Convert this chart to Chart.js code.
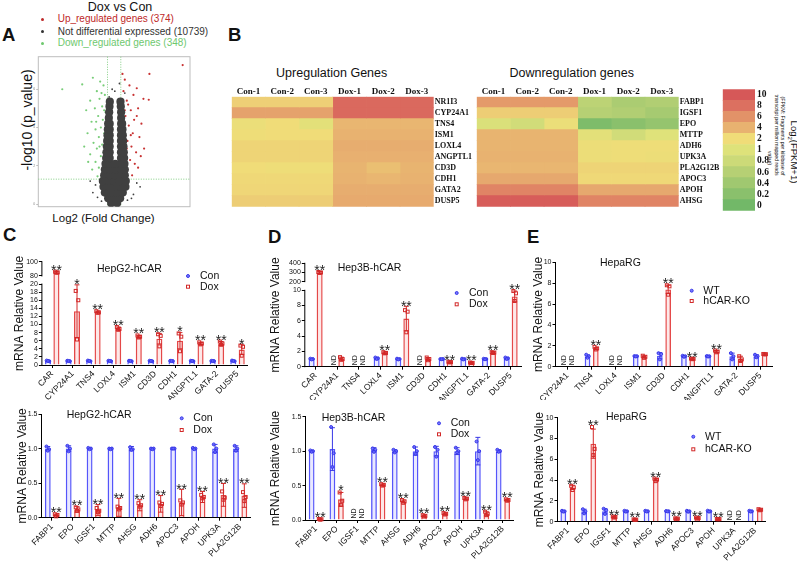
<!DOCTYPE html>
<html>
<head>
<meta charset="utf-8">
<script src="https://cdn.jsdelivr.net/npm/chart.js@4.4.0/dist/chart.umd.min.js"></script>
<style>
body{margin:0;background:#fff;width:797px;height:561px;position:relative;overflow:hidden;font-family:"Liberation Sans",Arial,sans-serif;color:#111}
canvas{position:absolute}
.t{position:absolute;white-space:nowrap;line-height:1}
.lt{font-weight:bold;font-size:18.5px}
.dot{position:absolute;width:3px;height:3px;border-radius:50%}
</style>
</head>
<body>
<div class="t lt" style="left:2px;top:25.6px">A</div>
<div class="t lt" style="left:228px;top:25.6px">B</div>
<div class="t lt" style="left:3px;top:225.6px">C</div>
<div class="t lt" style="left:268px;top:227.6px">D</div>
<div class="t lt" style="left:527px;top:227.6px">E</div>

<div class="t" style="left:120px;top:0.8px;font-size:12.5px;transform:translateX(-50%)">Dox vs Con</div>
<div class="dot" style="left:41px;top:17.8px;background:rgb(190,40,40)"></div>
<div class="dot" style="left:41px;top:30.2px;background:#333"></div>
<div class="dot" style="left:41px;top:41.8px;background:rgb(110,200,110)"></div>
<div class="t" style="left:57.7px;top:14.3px;font-size:10px;color:rgb(190,40,40)">Up_regulated genes (374)</div>
<div class="t" style="left:57.7px;top:26.7px;font-size:10px;color:#333">Not differential expressed (10739)</div>
<div class="t" style="left:57.7px;top:38.3px;font-size:10px;color:rgb(110,200,110)">Down_regulated genes (348)</div>
<div class="t" style="left:27px;top:120px;font-size:14px;transform:translate(-50%,-50%) rotate(-90deg)">-log10 (p_value)</div>
<div class="t" style="left:103.5px;top:213px;font-size:11.5px;transform:translateX(-50%)">Log2 (Fold Change)</div>

<div class="t" style="left:331.7px;top:66.8px;font-size:12.5px;transform:translateX(-50%)">Upregulation Genes</div>
<div class="t" style="left:571.7px;top:66.5px;font-size:12.5px;transform:translateX(-50%)">Downregulation genes</div>
<div class="t" style="left:793px;top:152px;font-size:9.5px;transform:translate(-50%,-50%) rotate(90deg)">Log<sub style="font-size:6px">2</sub>(FPKM+1)</div>
<div class="t" style="left:781.7px;top:135.5px;font-size:5.2px;transform:translate(-50%,-50%) rotate(90deg)">(FPKM: Fragments per kilobase of</div>
<div class="t" style="left:776px;top:135px;font-size:5.2px;transform:translate(-50%,-50%) rotate(90deg)">transcript per million mapped reads</div>
<div class="t" style="left:769px;top:157.5px;font-size:5.2px;transform:translate(-50%,-50%) rotate(90deg)">value)</div>

<canvas id="volc" width="200" height="165" style="left:0;top:50px"></canvas>
<canvas id="hmUp" width="255" height="135" style="left:225px;top:78px"></canvas>
<canvas id="hmDown" width="262" height="135" style="left:470px;top:78px"></canvas>
<canvas id="cbar" width="62" height="140" style="left:715px;top:80px"></canvas>
<canvas id="cTop" width="265" height="164" style="left:0;top:236px"></canvas>
<canvas id="cBot" width="265" height="161" style="left:0;top:400px"></canvas>
<canvas id="dTop" width="265" height="164" style="left:265px;top:236px"></canvas>
<canvas id="dBot" width="265" height="161" style="left:265px;top:400px"></canvas>
<canvas id="eTop" width="277" height="164" style="left:520px;top:236px"></canvas>
<canvas id="eBot" width="277" height="161" style="left:520px;top:400px"></canvas>

<script>
const FONT = '"Liberation Sans", Arial, sans-serif';
const SERIF = '"Liberation Serif", "Times New Roman", serif';
Chart.defaults.font.family = FONT;
Chart.defaults.color = '#111';

// ---------- volcano (log2 fold change, -log10 p) ----------
const volcanoGray = [
  [-0.45,0.05],[0.45,0.05],
  [-0.9,0.3],[0,0.3],[0.9,0.3],
  [-1.4,0.6],[-0.5,0.6],[0.4,0.6],[1.3,0.6],
  [-1.6,0.9],[-0.75,0.9],[0.1,0.9],[0.95,0.9],[1.7,0.9],
  [-1.7,1.2],[-0.85,1.2],[0,1.2],[0.85,1.2],[1.75,1.2],
  [-1.5,1.5],[-0.7,1.5],[0.1,1.5],[0.9,1.5],[1.6,1.5],
  [-1.4,1.8],[-0.67,1.8],[0.18,1.8],[1.03,1.8],[1.6,1.8],
  [-1.3,2.1],[-0.67,2.1],[0.18,2.1],[1.03,2.1],[1.55,2.1],
  [-1.2,2.4],[-0.67,2.4],[1.03,2.4],[1.5,2.4],
  [-1.15,2.7],[-0.67,2.7],[1.03,2.7],[1.45,2.7],
  [-1.1,3.0],[-0.67,3.0],[1.03,3.0],[1.4,3.0],
  [-1.05,3.3],[-0.67,3.3],[1.03,3.3],[1.35,3.3],
  [-1.0,3.6],[-0.67,3.6],[1.03,3.6],[1.3,3.6],
  [-0.95,3.9],[-0.67,3.9],[1.03,3.9],[1.25,3.9],
  [-0.9,4.2],[-0.67,4.2],[1.05,4.2],[1.2,4.2],
  [-0.8,4.5],[1.05,4.5],
  [-0.75,4.8],[1.05,4.8],
  [-0.7,5.1],[1.0,5.1],
  [-0.65,5.35],[0.95,5.35]
];
const volcanoGrayOut = [[-2.8,1.0],[3.4,1.1],[-3.2,0.6],[2.9,0.5],[0.8,6.3],[-0.75,5.6],[-2.5,0.35],
  [2.6,0.3],[0.1,5.9],[-1.9,0.15],[2.0,0.2],[3.9,0.9],[-3.6,1.2],[1.6,5.8],[-0.3,6.0]];
const volcanoDown = [[-7.8,6.0],[-4.8,6.25],[-3.2,6.6],[-2.1,6.4],[-1.6,6.2],[-2.6,5.9],[-1.4,5.7],[-3.6,5.4],
  [-2.2,5.5],[-1.8,5.1],[-4.2,4.9],[-2.9,5.0],[-1.3,4.8],[-2.4,4.6],[-3.4,4.3],[-1.7,4.4],[-1.2,4.2],
  [-2.0,4.0],[-2.8,3.9],[-4.0,3.7],[-1.5,3.7],[-2.3,3.5],[-1.2,3.4],[-3.1,3.2],[-1.8,3.1],[-2.6,2.9],
  [-1.3,2.8],[-3.6,2.6],[-2.0,2.5],[-1.5,2.3],[-2.8,2.2],[-1.2,2.1],[-2.3,1.9],[-3.3,1.8],[-1.7,1.7],
  [-1.3,1.5],[-2.5,1.45],[-1.9,1.35],[-4.5,3.0],[-3.9,2.2],[-1.6,2.7],[-2.2,3.0],[-1.5,4.9],[-2.7,4.3],[-1.9,5.8]];
const volcanoUp = [[10.3,7.26],[5.3,6.8],[1.25,6.8],[1.6,6.5],[3.4,6.05],[2.3,6.2],[1.4,5.9],[2.9,5.7],
  [5.2,5.45],[4.4,5.5],[1.9,5.4],[1.3,5.1],[3.6,5.0],[2.5,4.9],[1.7,4.6],[3.0,4.4],[1.2,4.3],[4.1,4.2],
  [2.2,4.1],[1.5,3.9],[2.8,3.7],[3.8,3.5],[1.3,3.5],[2.0,3.3],[2.6,3.0],[1.4,3.0],[4.5,2.9],[3.3,2.7],
  [1.8,2.6],[1.2,2.4],[2.4,2.3],[3.1,2.1],[1.5,2.0],[2.0,1.8],[1.3,1.6],[2.7,1.5],[1.7,1.4],[3.6,1.9],
  [2.1,5.2],[1.6,4.9],[3.4,4.6],[2.5,3.6],[1.9,2.9],[4.0,2.5]];
const volcanoYTicks = [0,2,4,6];
const fcCut = 1, pCut = 1.3;

// ---------- heatmaps (log2(FPKM+1)) ----------
const heatSamplesUp = ['Con-1','Con-2','Con-3','Dox-1','Dox-2','Dox-3'];
const heatSamplesDown = ['Con-1','Con-2','Con-2','Dox-1','Dox-2','Dox-3'];
const heatGenesUp = ['NR1I3','CYP24A1','TNS4','ISM1','LOXL4','ANGPTL1','CD3D','CDH1','GATA2','DUSP5'];
const heatUp = [
  [2.6,2.6,2.6,8.6,8.6,8.6],
  [5.0,5.0,5.0,8.6,8.6,8.6],
  [1.7,2.0,1.3,3.8,3.8,3.8],
  [1.9,2.0,2.0,4.0,4.0,4.0],
  [2.4,2.4,2.4,4.3,4.3,4.3],
  [2.4,2.4,2.4,4.1,4.1,4.1],
  [2.0,1.9,1.9,3.9,3.4,3.9],
  [2.2,2.2,2.2,4.0,3.8,4.0],
  [2.3,2.3,2.3,4.3,4.3,4.3],
  [2.7,2.7,2.7,4.5,4.5,4.5]
];
const heatGenesDown = ['FABP1','IGSF1','EPO','MTTP','ADH6','UPK3A','PLA2G12B','APOC3','APOH','AHSG'];
const heatDown = [
  [5.5,5.5,5.5,0.65,0.5,0.55],
  [2.7,2.7,2.7,0.6,0.55,0.45],
  [0.95,0.85,1.7,0.1,0.2,0.3],
  [3.9,3.9,3.9,1.3,0.85,1.05],
  [3.9,3.9,3.9,1.8,1.9,1.9],
  [4.0,4.0,4.0,1.8,1.9,1.8],
  [3.8,3.8,3.8,2.4,2.4,2.4],
  [4.6,4.6,4.6,2.2,2.2,2.2],
  [6.8,6.8,6.8,4.6,4.6,4.6],
  [9.6,9.6,9.6,6.8,6.8,6.8]
];
const heatStops = [0,0.2,0.4,0.6,0.8,1,2,4,6,8,10];
const heatColors = [[114,184,104],[138,192,108],[160,200,112],[182,208,116],[204,218,120],[222,226,122],
  [240,220,120],[232,178,112],[226,146,104],[220,112,96],[214,88,88]];

// ---------- qPCR bars ----------
const genesUp = ['CAR','CYP24A1','TNS4','LOXL4','ISM1','CD3D','CDH1','ANGPTL1','GATA-2','DUSP5'];
const genesDown = ['FABP1','EPO','IGSF1','MTTP','AHSG','ADH6','APOC3','APOH','UPK3A','PLA2G12B'];
const genesRG = ['CYP24A1','TNS4','LOXL4','ISM1','CD3D','CDH1','ANGPTL1','GATA-2','DUSP5'];

// C top: HepG2-hCAR
const hepg2UpCon = [1,1,1,1,1,1,1,1,1,1];
const hepg2UpConSd = [0.1,0.08,0.1,0.08,0.08,0.08,0.06,0.08,0.06,0.1];
const hepg2UpConPts = [[1.1,0.95,1.0],[1.05,0.95,1.0],[1.1,0.95,1.0],[1.05,0.95,1.0],[1.05,0.95,1.0],[1.05,0.95,1.0],[1.03,0.97,1.0],[1.05,0.95,1.0],[1.03,0.97,1.0],[1.1,0.95,1.0]];
const hepg2UpDox = [85,13.3,13.1,9.0,7.0,6.5,6.0,5.3,5.3,3.8];
const hepg2UpDoxSd = [1,6.5,0.2,0.4,0.3,1.3,2.0,0.3,0.5,1.2];
const hepg2UpDoxPts = [[86,85,84.5],[18.3,16,6.3],[13.3,13.0,12.9],[9.4,8.9,8.7],[7.3,7.0,6.8],[7.6,7.2,4.6],[7.8,7.0,3.4],[5.6,5.3,5.1],[5.8,5.3,5.0],[4.8,4.5,2.3]];
const hepg2UpSig = ['**','*','**','**','**','**','*','**','**','*'];
const hepg2UpTicks = [0,2,4,6,8,10,12,14,16,18,20,80,100];

// C bottom: HepG2-hCAR
const hepg2DownCon = [1,1,1,1,1,1,1,1,1,1];
const hepg2DownConSd = [0.03,0.04,0.01,0.01,0.03,0.01,0.01,0.01,0.06,0.04];
const hepg2DownConPts = [[1.03,0.99,0.97],[1.04,1.0,0.96],[1.01,1.0,0.99],[1.0,1.0,0.99],[1.02,0.99,0.98],[1.0,1.0,0.99],[1.0,1.0,1.0],[1.01,1.0,0.99],[1.06,1.0,0.95],[1.04,1.0,0.97]];
const hepg2DownDox = [0.04,0.12,0.11,0.15,0.18,0.20,0.22,0.30,0.33,0.32];
const hepg2DownDoxSd = [0.01,0.04,0.08,0.13,0.08,0.12,0.19,0.08,0.165,0.17];
const hepg2DownDoxPts = [[0.05,0.04,0.02],[0.15,0.12,0.1],[0.14,0.1,0.08],[0.16,0.14,0.12],[0.21,0.18,0.16],[0.22,0.2,0.17],[0.25,0.22,0.19],[0.33,0.3,0.28],[0.38,0.29,0.26],[0.37,0.3,0.24]];
const hepg2DownSig = ['**','**','**','**','**','**','**','**','**','**'];
const lowTicks = [0,0.5,1,1.5];
const lowTickLabels = ['0.0','0.5','1.0','1.5'];

// D top: Hep3B-hCAR (null = ND)
const hep3bUpCon = [1.0,null,null,1.1,1.0,null,1.0,1.0,1.0,1.1];
const hep3bUpConSd = [0.05,0,0,0.1,0.05,0,0.03,0.05,0.04,0.1];
const hep3bUpConPts = [[1.05,1.0,0.95],null,null,[1.2,1.1,1.0],[1.05,1.0,0.95],null,[1.0,1.0,0.98],[1.05,1.0,0.95],[1.04,1.0,0.97],[1.2,1.1,1.0]];
const hep3bUpDox = [300,1.05,null,1.8,6.3,1.0,0.6,0.5,1.85,9.2];
const hep3bUpDoxSd = [10,0.2,0,0.1,1.6,0.2,0.05,0.05,0.1,0.7];
const hep3bUpDoxPts = [[305,300,295],[1.25,1.0,0.9],null,[1.9,1.8,1.75],[7.4,7.2,4.5],[1.2,1.0,0.85],[0.65,0.6,0.57],[0.55,0.5,0.48],[1.9,1.85,1.8],[9.9,9.6,8.6]];
const hep3bUpSig = ['**','','','**','**','','**','**','**','**'];
const hep3bUpTicks = [0,2,4,6,8,10,200,300,400];

// D bottom: Hep3B-hCAR
const hep3bDownCon = [1.0,1.03,null,1.02,1.0,1.0,1.0,1.0,1.0,1.0];
const hep3bDownConSd = [0.01,0.31,0,0.03,0.02,0.06,0.07,0.05,0.2,0.02];
const hep3bDownConPts = [[1.01,1.0,0.99],[1.35,0.97,0.77],null,[1.04,1.02,0.99],[1.02,1.0,0.98],[1.06,1.0,0.96],[1.06,1.02,0.92],[1.05,1.0,0.98],[1.14,1.0,0.87],[1.02,1.0,0.99]];
const hep3bDownDox = [0.01,0.30,null,0.51,0.27,0.06,0.09,0.31,0.09,0.29];
const hep3bDownDoxSd = [0.005,0.1,0,0.01,0.02,0.01,0.01,0.01,0.03,0.01];
const hep3bDownDoxPts = [[0.015,0.01,0.005],[0.4,0.28,0.22],null,[0.52,0.51,0.5],[0.29,0.27,0.25],[0.07,0.06,0.05],[0.1,0.09,0.08],[0.32,0.31,0.3],[0.12,0.09,0.07],[0.3,0.29,0.28]];
const hep3bDownSig = ['**','*','','**','**','**','**','**','**','**'];

// E top: HepaRG
const rgUpWT = [null,1.0,null,1.0,1.05,1.0,1.0,1.0,1.0];
const rgUpWTSd = [0,0.12,0,0.03,0.3,0.05,0.05,0.3,0.15];
const rgUpWTPts = [null,[1.15,1.0,0.85],null,[1.02,1.0,0.98],[1.3,1.2,0.7],[1.05,1.0,0.95],[1.02,1.0,0.97],[1.3,1.0,0.7],[1.15,1.0,0.9]];
const rgUpKO = [null,1.75,null,0.95,7.4,0.75,1.45,0.75,1.2];
const rgUpKOSd = [0,0.1,0,0.1,0.4,0.05,0.1,0.25,0.05];
const rgUpKOPts = [null,[1.9,1.75,1.65],null,[1.05,0.95,0.85],[7.8,7.7,6.9],[0.78,0.75,0.72],[1.55,1.45,1.38],[1.0,0.7,0.55],[1.22,1.2,1.18]];
const rgUpSig = ['','**','','','**','**','**','',''];
const rgTicks = [0,2,4,6,8,10];

// E bottom: HepaRG
const rgDownWT = [1.0,1.0,1.0,1.0,1.0,1.0,1.0,1.0,null,1.0];
const rgDownWTSd = [0.05,0.2,0.25,0.05,0.05,0.03,0.05,0.05,0,0.05];
const rgDownWTPts = [[1.05,1.0,0.97],[1.2,1.0,0.8],[1.25,1.1,0.75],[1.05,1.0,0.97],[1.05,1.0,0.98],[1.02,1.0,0.99],[1.05,1.0,0.96],[1.06,1.0,0.97],null,[1.05,1.0,0.97]];
const rgDownKO = [3.3,7.5,0.45,0.2,4.05,0.3,0.35,0.25,null,1.15];
const rgDownKOSd = [0.2,1.4,0.05,0.03,0.1,0.03,0.05,0.03,0,0.05];
const rgDownKOPts = [[3.45,3.3,3.05],[9.1,7.0,6.4],[0.5,0.45,0.4],[0.22,0.2,0.18],[4.15,4.05,3.9],[0.32,0.3,0.28],[0.4,0.35,0.3],[0.27,0.25,0.23],null,[1.2,1.15,1.1]];
const rgDownSig = ['**','**','**','**','**','**','**','**','',''];

// ================= drawing =================
function heatColor(v) {
  let k = 0;
  while (k < heatStops.length - 2 && v > heatStops[k + 1]) k++;
  const t = Math.min(1, Math.max(0, (v - heatStops[k]) / (heatStops[k + 1] - heatStops[k])));
  const a = heatColors[k], b = heatColors[k + 1];
  return 'rgb(' + a.map((c, i) => Math.round(c + (b[i] - c) * t)).join(',') + ')';
}
const toXY = arr => arr.map(p => ({x: p[0], y: p[1]}));

// volcano
new Chart(document.getElementById('volc'), {
  type: 'scatter',
  data: {
    datasets: [
      {data: toXY(volcanoGray), pointRadius: 4.1, pointBackgroundColor: 'rgb(64,64,64)', pointBorderWidth: 0},
      {data: toXY(volcanoGrayOut), pointRadius: 0.9, pointBackgroundColor: 'rgb(64,64,64)', pointBorderWidth: 0},
      {data: toXY(volcanoDown), pointRadius: 1.1, pointBackgroundColor: 'rgb(120,205,120)', pointBorderWidth: 0},
      {data: toXY(volcanoUp), pointRadius: 1.1, pointBackgroundColor: 'rgb(200,50,50)', pointBorderWidth: 0}
    ]
  },
  options: {
    responsive: false, animation: false,
    layout: {padding: {left: 0, right: 10, top: 6.7, bottom: 8.3}},
    plugins: {legend: {display: false}, tooltip: {enabled: false}},
    scales: {
      x: {display: false, min: -11.4, max: 11.4},
      y: {
        min: -0.14, max: 7.7,
        grid: {drawOnChartArea: false, tickLength: 2, color: '#bbb'},
        border: {display: false},
        afterBuildTicks: s => { s.ticks = volcanoYTicks.map(v => ({value: v})); },
        ticks: {font: {size: 3.5}, color: '#888', padding: 1},
        afterFit: s => { s.width = 38.3; }
      }
    }
  },
  plugins: [{
    id: 'volcBox',
    beforeDatasetsDraw(chart) {
      const {ctx, chartArea: a, scales: {x, y}} = chart;
      ctx.save();
      ctx.strokeStyle = '#bdbdbd'; ctx.lineWidth = 1;
      ctx.strokeRect(a.left, a.top, a.right - a.left, a.bottom - a.top);
      ctx.strokeStyle = 'rgb(130,205,130)'; ctx.setLineDash([1, 1.5]);
      ctx.beginPath();
      [-fcCut, fcCut].forEach(v => { const px = x.getPixelForValue(v); ctx.moveTo(px, a.top); ctx.lineTo(px, a.bottom); });
      const py = y.getPixelForValue(pCut); ctx.moveTo(a.left, py); ctx.lineTo(a.right, py);
      ctx.stroke();
      ctx.restore();
    }
  }]
});

// heatmaps as stacked horizontal bars
function heatmap(id, genes, samples, vals, yw) {
  new Chart(document.getElementById(id), {
    type: 'bar',
    data: {
      labels: genes,
      datasets: samples.map((s, j) => ({
        label: s, data: genes.map(() => 1),
        backgroundColor: genes.map((g, i) => heatColor(vals[i][j])),
        borderWidth: 0, barPercentage: 1, categoryPercentage: 1
      }))
    },
    options: {
      indexAxis: 'y', responsive: false, animation: false,
      layout: {padding: {left: 6.7, top: 0, right: 0, bottom: 6.3}},
      plugins: {legend: {display: false}, tooltip: {enabled: false}},
      scales: {
        x: {
          position: 'top', stacked: true, min: 0, max: samples.length,
          grid: {display: false, drawTicks: false}, border: {display: false},
          afterBuildTicks: s => { s.ticks = samples.map((_, j) => ({value: j + 0.5})); },
          ticks: {callback: (v, i) => samples[i], font: {family: SERIF, size: 9, weight: 'bold'}, color: '#111', padding: 0, maxRotation: 0, autoSkip: false},
          afterFit: s => { s.height = 18.7; }
        },
        y: {
          position: 'right', stacked: true,
          grid: {display: false, drawTicks: false}, border: {display: false},
          ticks: {font: {family: SERIF, size: 8, weight: 'bold'}, color: '#111', padding: 1, autoSkip: false},
          afterFit: s => { s.width = yw; }
        }
      }
    }
  });
}
heatmap('hmUp', heatGenesUp, heatSamplesUp, heatUp, 255 - 208.7);
heatmap('hmDown', heatGenesDown, heatSamplesDown, heatDown, 262 - 208.7);

// colour bar
const cbLabels = heatStops.slice().reverse().map(String);
new Chart(document.getElementById('cbar'), {
  type: 'bar',
  data: {labels: cbLabels, datasets: [{data: cbLabels.map(() => 1), backgroundColor: heatStops.slice().reverse().map(heatColor), borderWidth: 0, barPercentage: 1, categoryPercentage: 1}]},
  options: {
    indexAxis: 'y', responsive: false, animation: false,
    layout: {padding: {left: 7.7, top: 9.3, right: 0, bottom: 9.3}},
    plugins: {legend: {display: false}, tooltip: {enabled: false}},
    scales: {
      x: {display: false, min: 0, max: 1},
      y: {position: 'right', grid: {display: false, drawTicks: false}, border: {display: false},
          ticks: {font: {family: SERIF, size: 9.5, weight: 'bold'}, color: '#111', padding: 2, autoSkip: false},
          afterFit: s => { s.width = 22; }}
    }
  }
});

// bar charts with error bars, replicate points, stars
function barChart(cfg) {
  const el = document.getElementById(cfg.id);
  const ox = el.offsetLeft, oy = el.offsetTop;
  const tf = cfg.tf || (v => v);
  const edge = ['rgb(85,85,250)', 'rgb(228,72,72)'];
  const fill = ['rgba(120,120,255,0.16)', 'rgba(245,130,130,0.18)'];
  const dark = ['rgb(55,55,230)', 'rgb(210,40,40)'];
  const extras = {
    id: 'extras',
    afterDraw(chart) {
      const ctx = chart.ctx, ys = chart.scales.y, a = chart.chartArea;
      ctx.save();
      if (cfg.brk) {
        ctx.strokeStyle = '#000'; ctx.lineWidth = 1;
        ctx.beginPath();
        cfg.brk.forEach(seg => {
          ctx.moveTo(a.left, ys.getPixelForValue(tf(seg[0])) + 0.5);
          ctx.lineTo(a.left, ys.getPixelForValue(tf(seg[1])) - 0.5);
        });
        ctx.stroke();
      }
      [0, 1].forEach(k => {
        const meta = chart.getDatasetMeta(k);
        cfg.means[k].forEach((m, i) => {
          const x = meta.data[i].x;
          if (m == null) {
            ctx.save();
            ctx.translate(x, ys.getPixelForValue(0) - 1.5);
            ctx.rotate(-Math.PI / 2);
            ctx.font = '7px ' + FONT; ctx.fillStyle = '#222';
            ctx.textAlign = 'left'; ctx.textBaseline = 'middle';
            ctx.fillText('ND', 0, 0.5);
            ctx.restore();
            return;
          }
          const sd = cfg.sds[k][i];
          const hi = ys.getPixelForValue(tf(m + sd));
          const lo = ys.getPixelForValue(tf(Math.max(0, m - sd)));
          ctx.strokeStyle = dark[k]; ctx.lineWidth = 1;
          ctx.beginPath();
          ctx.moveTo(x, hi); ctx.lineTo(x, lo);
          ctx.moveTo(x - 2.5, hi); ctx.lineTo(x + 2.5, hi);
          ctx.moveTo(x - 2.5, lo); ctx.lineTo(x + 2.5, lo);
          ctx.stroke();
          let top = hi;
          (cfg.pts[k][i] || []).forEach((p, j) => {
            const px = x + [-1.3, 1.3, 0][j % 3], py = ys.getPixelForValue(tf(p));
            top = Math.min(top, py - 1.5);
            if (k) {
              ctx.strokeRect(px - 1.5, py - 1.5, 3, 3);
            } else {
              ctx.beginPath(); ctx.arc(px, py, 1.5, 0, 2 * Math.PI);
              ctx.fillStyle = 'rgba(100,100,255,0.85)'; ctx.fill(); ctx.stroke();
            }
          });
          if (k === 1 && cfg.sig[i]) {
            ctx.font = '14px ' + FONT; ctx.fillStyle = '#222';
            ctx.textAlign = 'center'; ctx.textBaseline = 'alphabetic';
            ctx.fillText(cfg.sig[i], x, top + 4.5);
          }
        });
      });
      // title + legend
      ctx.fillStyle = '#111'; ctx.textBaseline = 'middle'; ctx.textAlign = 'left';
      ctx.font = '10.5px ' + FONT;
      ctx.fillText(cfg.title, cfg.titlePos[0] - ox, cfg.titlePos[1] - oy);
      cfg.names.forEach((n, k) => {
        const yy = cfg.legY[k] - oy, mx = cfg.legMx - ox;
        ctx.strokeStyle = dark[k]; ctx.lineWidth = 1;
        if (k) { ctx.strokeRect(mx - 1.5, yy - 1.5, 3, 3); }
        else { ctx.beginPath(); ctx.arc(mx, yy, 1.5, 0, 2 * Math.PI); ctx.fillStyle = 'rgba(100,100,255,0.85)'; ctx.fill(); ctx.stroke(); }
        ctx.fillStyle = '#111';
        ctx.fillText(n, cfg.legTx - ox, yy);
      });
      ctx.restore();
    }
  };
  new Chart(el, {
    type: 'bar',
    data: {
      labels: cfg.labels,
      datasets: [0, 1].map(k => ({
        label: cfg.names[k],
        data: cfg.means[k].map(v => v == null ? null : tf(v)),
        backgroundColor: fill[k], borderColor: edge[k], borderWidth: 1.4,
        categoryPercentage: cfg.cp, barPercentage: cfg.bp
      }))
    },
    options: {
      responsive: false, animation: false,
      layout: {padding: {left: 0, right: cfg.padR, top: cfg.padT, bottom: 0}},
      plugins: {legend: {display: false}, tooltip: {enabled: false}},
      scales: {
        x: {
          grid: {drawOnChartArea: false, tickLength: 3, color: '#000', offset: false},
          border: {color: '#000', width: 1},
          ticks: {font: {size: 8.5}, color: '#111', minRotation: 45, maxRotation: 45, padding: 1, autoSkip: false},
          afterFit: s => { s.height = cfg.xh; }
        },
        y: {
          min: 0, max: cfg.ymax,
          border: {display: !cfg.brk, color: '#000', width: 1},
          grid: {drawOnChartArea: false, tickLength: 3, color: '#000'},
          afterBuildTicks: s => { s.ticks = cfg.ticks.map(v => ({value: tf(v)})); },
          ticks: {font: {size: 7}, color: '#111', padding: 1, autoSkip: false,
                  callback: (v, i) => cfg.tickLabels ? cfg.tickLabels[i] : String(cfg.ticks[i])},
          title: {display: true, text: 'mRNA Relative Value', font: {size: 12}, color: '#111', padding: {top: cfg.tp, bottom: 0}},
          afterFit: s => { s.width = cfg.yw; }
        }
      }
    },
    plugins: [extras]
  });
}

const tfC = v => v <= 20 ? v : v < 80 ? 20 + (v - 20) / 60 * 2 : 22 + (v - 80) * 0.176;
const tfD = v => v <= 10 ? v : v < 200 ? 10 + (v - 10) / 190 * 1.13 : 11.13 + (v - 200) * 0.012;

barChart({id: 'cTop', labels: genesUp, names: ['Con', 'Dox'],
  means: [hepg2UpCon, hepg2UpDox], sds: [hepg2UpConSd, hepg2UpDoxSd], pts: [hepg2UpConPts, hepg2UpDoxPts], sig: hepg2UpSig,
  ticks: hepg2UpTicks, tf: tfC, ymax: tfC(100), brk: [[0, 20], [80, 100]],
  yw: 41.9, padT: 25.7, padR: 17.2, xh: 35, tp: 12.1, cp: 0.82, bp: 0.72,
  title: 'HepG2-hCAR', titlePos: [97, 269], legMx: 188, legTx: 200, legY: [276, 286.7]});

barChart({id: 'cBot', labels: genesDown, names: ['Con', 'Dox'],
  means: [hepg2DownCon, hepg2DownDox], sds: [hepg2DownConSd, hepg2DownDoxSd], pts: [hepg2DownConPts, hepg2DownDoxPts], sig: hepg2DownSig,
  ticks: lowTicks, tickLabels: lowTickLabels, ymax: 1.5,
  yw: 41.5, padT: 14, padR: 14.4, xh: 43.3, tp: 15.8, cp: 0.8, bp: 0.7,
  title: 'HepG2-hCAR', titlePos: [66.7, 415], legMx: 181.7, legTx: 193.3, legY: [418.3, 430]});

barChart({id: 'dTop', labels: genesUp, names: ['Con', 'Dox'],
  means: [hep3bUpCon, hep3bUpDox], sds: [hep3bUpConSd, hep3bUpDoxSd], pts: [hep3bUpConPts, hep3bUpDoxPts], sig: hep3bUpSig,
  ticks: hep3bUpTicks, tf: tfD, ymax: tfD(400), brk: [[0, 10], [200, 400]],
  yw: 39.8, padT: 27.3, padR: 8.5, xh: 33.3, tp: 3.8, cp: 0.74, bp: 0.75,
  title: 'Hep3B-hCAR', titlePos: [337.7, 267.7], legMx: 456.7, legTx: 469, legY: [293, 304.3]});

barChart({id: 'dBot', labels: genesDown, names: ['Con', 'Dox'],
  means: [hep3bDownCon, hep3bDownDox], sds: [hep3bDownConSd, hep3bDownDoxSd], pts: [hep3bDownConPts, hep3bDownDoxPts], sig: hep3bDownSig,
  ticks: lowTicks, tickLabels: lowTickLabels, ymax: 1.5,
  yw: 40.5, padT: 16.7, padR: 16.7, xh: 41, tp: 3.8, cp: 0.82, bp: 0.68,
  title: 'Hep3B-hCAR', titlePos: [321.7, 418.3], legMx: 439, legTx: 450.7, legY: [423.3, 434.3]});

barChart({id: 'eTop', labels: genesRG, names: ['WT', 'hCAR-KO'],
  means: [rgUpWT, rgUpKO], sds: [rgUpWTSd, rgUpKOSd], pts: [rgUpWTPts, rgUpKOPts], sig: rgUpSig,
  ticks: rgTicks, ymax: 10,
  yw: 35.5, padT: 26.3, padR: 24.5, xh: 33.3, tp: 11.8, cp: 0.69, bp: 0.68,
  title: 'HepaRG', titlePos: [600, 263.3], legMx: 691.7, legTx: 703.3, legY: [290.7, 301]});

barChart({id: 'eBot', labels: genesDown, names: ['WT', 'hCAR-KO'],
  means: [rgDownWT, rgDownKO], sds: [rgDownWTSd, rgDownKOSd], pts: [rgDownWTPts, rgDownKOPts], sig: rgDownSig,
  ticks: rgTicks, ymax: 10,
  yw: 37.5, padT: 17.7, padR: 31.4, xh: 39.3, tp: 12.8, cp: 0.88, bp: 0.63,
  title: 'HepaRG', titlePos: [606, 417.3], legMx: 693.3, legTx: 705, legY: [436.7, 449.3]});
</script>
</body>
</html>
